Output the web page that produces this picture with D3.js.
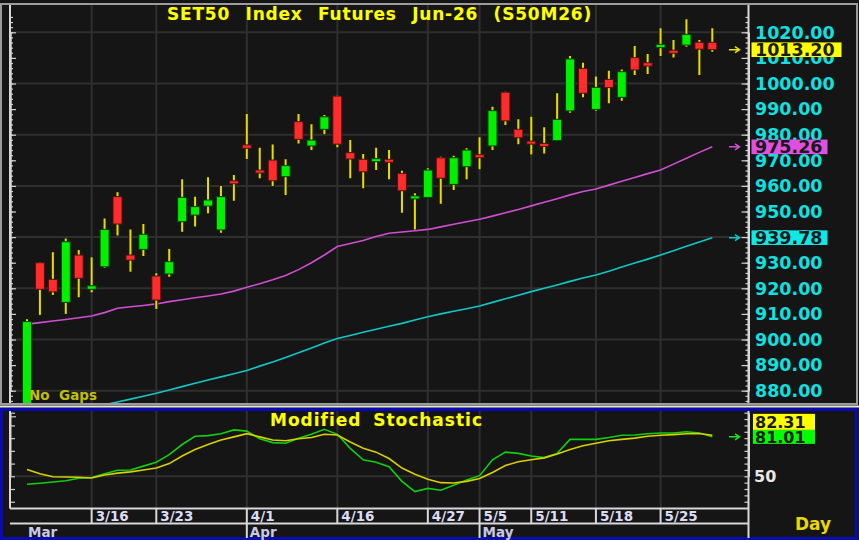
<!DOCTYPE html>
<html><head><meta charset="utf-8">
<script src="https://cdn.jsdelivr.net/npm/d3@7"></script>
<style>html,body{margin:0;padding:0;background:#151515;overflow:hidden}</style>
</head><body><svg id="c" width="859" height="540"></svg>
<script>
// ---------- DATA ----------
const dates = ["3/9","3/10","3/11","3/12","3/13","3/16","3/17","3/18","3/19","3/20",
  "3/23","3/24","3/25","3/26","3/27","3/30","3/31","4/1","4/2","4/3",
  "4/7","4/8","4/9","4/10","4/16","4/17","4/20","4/21","4/22","4/23",
  "4/24","4/27","4/28","4/29","4/30","5/5","5/6","5/7","5/8","5/11",
  "5/12","5/13","5/14","5/15","5/18","5/19","5/20","5/21","5/22","5/25",
  "5/26","5/27","5/28","5/29"];
const openVals = [872,930,923.5,914.5,933,919.6,928.4,955.8,933,935.2,
  924.8,925.6,946,948.6,952.1,942.8,961.6,976,965.9,970.1,
  963.6,985.1,975.6,982.1,995.1,973,970.4,969.8,970,964.9,
  955.2,955.5,971,960.6,967.5,971.8,975.6,996.6,982.1,977.2,
  976.2,977.7,989.3,1005.9,989.9,1001.6,994.6,1010.1,1008.1,1014,
  1012.6,1015,1016.1,1016.1];
const highVals = [907.9,930.2,934.1,939.5,935,932.1,947.3,957.5,943,945.1,
  925.9,935.4,962.6,955.8,963.4,960,964.3,988.1,974.9,976.2,
  970.4,988.1,984.1,987.7,995.3,977.9,972.5,974.9,974,965.9,
  957.1,966.9,971.4,971.8,974.7,979,990.9,996.8,986,987,
  982.9,996.2,1010.7,1008.1,1002.7,1005,1005.5,1014.6,1011.5,1021.6,
  1017,1025.1,1017,1021.6];
const lowVals = [870,909.6,917.4,910,916.5,918.4,928,940.6,926.5,932.6,
  911.9,924.5,942.1,944.1,949.3,941.7,954.2,970.5,963,960,
  956.4,976.6,974,980.2,975.1,963,959.1,966.2,962.6,949.5,
  943,955.3,953,958.4,962.6,966.5,974,983.8,976.3,972.3,
  972.7,977.5,988.6,994.6,989.4,992.3,993.3,1003.3,1003.7,1010.7,
  1010.2,1014.4,1003.3,1012.4];
const closeVals = [907,919.6,918.6,938.2,923.9,921,943,945.1,931,941.1,
  915.4,930.4,955.5,951.9,954.5,955.8,961.2,974.7,965.3,962,
  967.9,978.2,977.9,987,976.3,970.5,965.5,970.3,969.6,958.1,
  955.8,966.2,963,971,974,971.4,989.4,985.4,978.8,976.6,
  975.8,986,1009.6,996.2,998.5,998.4,1004.6,1005.3,1006.8,1015.3,
  1012.2,1019.2,1013.4,1013.2];
const maFast = [906,906.6,907.2,907.8,908.5,909.2,910.5,912.2,912.8,913.3,
  913.9,914.8,915.5,916.3,917,917.8,918.9,920.4,921.8,923.3,
  925,927.3,930,933,936.3,937.5,938.7,940.2,941.5,942,
  942.5,943,944,945,946,947,948.2,949.5,950.8,952.2,
  953.6,955,956.5,957.8,958.8,960.3,961.8,963.3,964.8,966.2,
  968.5,970.8,973.1,975.26];
const maSlow = [866.5,867.8,869.2,870.6,872,873.3,874.5,875.6,876.7,877.8,
  879,880.3,881.6,882.9,884.2,885.4,886.6,887.9,889.6,891.2,
  893,894.8,896.7,898.6,900.4,901.6,902.8,904,905.2,906.3,
  907.6,908.9,910,911,912,913.1,914.5,915.9,917.3,918.7,
  920,921.3,922.7,924,925.2,926.7,928.3,929.9,931.4,933,
  934.7,936.4,938.1,939.78];
const stochK = [43.7,44.5,45.5,46.5,48.5,49,52,54.7,55,58,
  61,67,75,81.5,82,83.5,86.5,85.5,79.5,76.5,
  76,80,83,87,83,72,63,61,57.5,46,
  38,40.5,39,43,47,50.5,63,69,68,66,
  64.7,68,79,79,79,80.5,82.3,82.5,83.5,84,
  84,85,84,81.01];
const stochD = [55.3,52,49.7,49.5,49.3,48.7,51,52.5,53.5,55,
  56.5,60,66,71,75,78.5,81,83.5,81,78.5,
  78,79.5,80.5,83,82.5,77,72,69,64,56.5,
  51.6,47.6,45,44.7,46,48.2,53,58.5,61.5,63,
  64.5,67.5,71,74,76,78,79,80,81.5,82.3,
  82.8,83.5,83.6,82.31];
const priceTicks = [880,890,900,910,920,930,940,950,960,970,980,990,1000,1010,1020];
const dateTicks = ["3/16","3/23","4/1","4/16","4/27","5/5","5/11","5/18","5/25"];
const monthLabels = ["Mar","Apr","May"];
const monthStarts = ["3/9","4/1","5/5"];
const stochTicks = [50];
const titleText = "SET50 Index Futures Jun-26 (S50M26)";
const stochTitle = "Modified Stochastic";

// ---------- LAYOUT ----------
const FONT = "DejaVu Sans";
const L = 10, R = 748.5, mainTop = 5, mainBot = 403, stTop = 411, stBot = 508.5, dateBot = 523.5;
const svg = d3.select("#c");
svg.append("rect").attr("width",859).attr("height",540).attr("fill","#151515");

const x = d3.scalePoint().domain(dates).range([27, 712.3]);
const y = d3.scaleLinear().domain([880,1020]).range([390.7, 32.3]);
const ys = d3.scaleLinear().domain([50,100]).range([476.3, 412.7]);

const defs = svg.append("defs");
defs.append("clipPath").attr("id","cm").append("rect")
  .attr("x",L+1).attr("y",mainTop).attr("width",R-L-1).attr("height",mainBot-mainTop);
defs.append("clipPath").attr("id","cs").append("rect")
  .attr("x",L+1).attr("y",stTop).attr("width",R-L-1).attr("height",stBot-stTop);

// frames
svg.append("rect").attr("x",1).attr("y",4).attr("width",856).attr("height",400)
  .attr("fill","none").attr("stroke","#9c9c9c").attr("stroke-width",2);
svg.append("line").attr("x1",0).attr("x2",859).attr("y1",406.5).attr("y2",406.5)
  .attr("stroke","#e8e8e8").attr("stroke-width",2);
svg.append("rect").attr("x",1.5).attr("y",409.5).attr("width",855).attr("height",129)
  .attr("fill","none").attr("stroke","#0a0ab4").attr("stroke-width",3);

// grid main
const gm = svg.append("g");
gm.selectAll("line.h").data(d3.range(880,1021,20)).join("line")
  .attr("x1",L).attr("x2",R).attr("y1",d=>y(d)).attr("y2",d=>y(d))
  .attr("stroke","#2f2f2f").attr("stroke-width",2);
gm.selectAll("line.v").data(dateTicks).join("line")
  .attr("x1",d=>x(d)).attr("x2",d=>x(d)).attr("y1",mainTop).attr("y2",mainBot)
  .attr("stroke","#2f2f2f").attr("stroke-width",2);
// grid stoch
const gs = svg.append("g");
gs.selectAll("line.h").data(stochTicks).join("line")
  .attr("x1",L).attr("x2",R).attr("y1",d=>ys(d)).attr("y2",d=>ys(d))
  .attr("stroke","#2f2f2f").attr("stroke-width",2);
gs.selectAll("line.v").data(dateTicks).join("line")
  .attr("x1",d=>x(d)).attr("x2",d=>x(d)).attr("y1",stTop).attr("y2",stBot)
  .attr("stroke","#2f2f2f").attr("stroke-width",2);

// axes (ticks)
function styleAxis(g){
  g.selectAll(".domain").attr("stroke","#d8d8d8").attr("stroke-width",2);
  g.selectAll(".tick line").attr("stroke","#d0d0d0").attr("stroke-width",1.2);
  g.selectAll(".tick text").remove();
}
const minorMain = d3.range(876,1028,2);
svg.append("g").attr("transform",`translate(${L},0)`)
  .call(d3.axisRight(y).tickValues(minorMain).tickSize(3).tickSizeOuter(0)).call(styleAxis);
svg.append("g").attr("transform",`translate(${L},0)`)
  .call(d3.axisRight(y).tickValues(priceTicks.concat([870])).tickSize(6).tickSizeOuter(0)).call(styleAxis);
svg.append("g").attr("transform",`translate(${R},0)`)
  .call(d3.axisLeft(y).tickValues(minorMain).tickSize(3).tickSizeOuter(0)).call(styleAxis);
svg.append("g").attr("transform",`translate(${R},0)`)
  .call(d3.axisLeft(y).tickValues(priceTicks).tickSize(7).tickSizeOuter(0)).call(styleAxis);
svg.append("line").attr("x1",L).attr("x2",L).attr("y1",mainTop).attr("y2",mainBot).attr("stroke","#d8d8d8").attr("stroke-width",2);
svg.append("line").attr("x1",R).attr("x2",R).attr("y1",mainTop).attr("y2",mainBot).attr("stroke","#d8d8d8").attr("stroke-width",2);

const stMinor = d3.range(30,101,5);
svg.append("g").attr("transform",`translate(${L},0)`)
  .call(d3.axisRight(ys).tickValues(d3.range(30,101,10)).tickSize(5).tickSizeOuter(0)).call(styleAxis);
svg.append("g").attr("transform",`translate(${R},0)`)
  .call(d3.axisLeft(ys).tickValues(stMinor).tickSize(4).tickSizeOuter(0)).call(styleAxis);
svg.append("line").attr("x1",L).attr("x2",L).attr("y1",stTop).attr("y2",stBot).attr("stroke","#d8d8d8").attr("stroke-width",2);
svg.append("line").attr("x1",R).attr("x2",R).attr("y1",stTop).attr("y2",538).attr("stroke","#d8d8d8").attr("stroke-width",2);
svg.append("line").attr("x1",L).attr("x2",R).attr("y1",stBot).attr("y2",stBot).attr("stroke","#d8d8d8").attr("stroke-width",2);
svg.append("line").attr("x1",L).attr("x2",R).attr("y1",dateBot).attr("y2",dateBot).attr("stroke","#d8d8d8").attr("stroke-width",2);

// MA lines
const pm = svg.append("g").attr("clip-path","url(#cm)");
const line = (arr, sc) => d3.line().x((d,i)=>x(dates[i])).y(d=>sc(d))(arr);
pm.append("path").attr("d",line(maSlow,y)).attr("fill","none").attr("stroke","#10c8c8").attr("stroke-width",1.6);
pm.append("path").attr("d",line(maFast,y)).attr("fill","none").attr("stroke","#d04ed0").attr("stroke-width",1.6);

// candles
const candles = dates.map((d,i)=>({d,o:openVals[i],h:highVals[i],l:lowVals[i],c:closeVals[i]}));
const cg = pm.append("g").selectAll("g").data(candles).join("g");
cg.append("line").attr("x1",d=>x(d.d)).attr("x2",d=>x(d.d)).attr("y1",d=>y(d.h)-0.5).attr("y2",d=>y(d.l)+0.5)
  .attr("stroke","#1a1a00").attr("stroke-width",4);
cg.append("line").attr("x1",d=>x(d.d)).attr("x2",d=>x(d.d)).attr("y1",d=>y(d.h)).attr("y2",d=>y(d.l))
  .attr("stroke","#e6dc00").attr("stroke-width",2);
cg.append("rect")
  .attr("x",d=>x(d.d)-4.5).attr("width",9)
  .attr("y",d=>{const t=y(Math.max(d.o,d.c)), b=y(Math.min(d.o,d.c)); return (b-t<3)? (t+b)/2-1.5 : t;})
  .attr("height",d=>Math.max(3, y(Math.min(d.o,d.c))-y(Math.max(d.o,d.c))))
  .attr("fill",d=>d.c>=d.o?"#00f000":"#ff2c2c")
  .attr("stroke",d=>d.c>=d.o?"#084008":"#501010").attr("stroke-width",1);

// stochastic lines
const ps = svg.append("g").attr("clip-path","url(#cs)");
ps.append("path").attr("d",line(stochK,ys)).attr("fill","none").attr("stroke","#10d010").attr("stroke-width",1.6);
ps.append("path").attr("d",line(stochD,ys)).attr("fill","none").attr("stroke","#d8d000").attr("stroke-width",1.6);

// texts
function txt(g, s, xx, yy, size, fill, weight, anchor){
  return g.append("text").attr("x",xx).attr("y",yy).text(s)
    .attr("font-family",FONT).attr("font-size",size).attr("font-weight",weight||"bold")
    .attr("fill",fill).attr("text-anchor",anchor||"start");
}
function fitWords(t, target){
  const n = t.text().split(" ").length - 1;
  const w = t.node().getComputedTextLength();
  if (n > 0) t.attr("word-spacing", (target - w) / n);
}
const tt = txt(svg, titleText, 379.5, 19.5, 17, "#ffff00", "bold", "middle")
  .attr("letter-spacing",0.8)
  .attr("stroke","#3a3a00").attr("stroke-width",0.6).attr("paint-order","stroke");
fitWords(tt, 425);
const st = txt(svg, stochTitle, 376.5, 426, 17, "#ffff00", "bold", "middle")
  .attr("letter-spacing",1)
  .attr("stroke","#3a3a00").attr("stroke-width",0.6).attr("paint-order","stroke");
fitWords(st, 213);
const ng = txt(svg, "No Gaps", 29, 400, 13.5, "#c0c000", "bold");
fitWords(ng, 68);

// price labels
const pl = svg.append("g");
priceTicks.forEach(v=>{
  txt(pl, v.toFixed(2), 755, y(v), 17.5, "#10e0e0", "bold").attr("dy","0.36em");
});
// value boxes
function valBox(v, val, w, fill, sc){
  const cy = sc(v);
  svg.append("rect").attr("x",751.5).attr("y",cy-7.3).attr("width",w).attr("height",14.6).attr("fill",fill);
  txt(svg, val, 755, cy, 17.5, "#1a1a1a", "bold").attr("dy","0.36em");
}
function arrow(cy, col){
  svg.append("path").attr("d",`M729,${cy}H739M735,${cy-3}L739.5,${cy}L735,${cy+3}`)
    .attr("fill","none").attr("stroke",col).attr("stroke-width",1.5);
}
const lastClose = closeVals[closeVals.length-1];
valBox(lastClose, lastClose.toFixed(2), 90, "#ffff00", y); arrow(y(lastClose), "#e6e600");
const lf = maFast[maFast.length-1];
valBox(lf, lf.toFixed(2), 76, "#e050e0", y); arrow(y(lf), "#d050d0");
const ls = maSlow[maSlow.length-1];
valBox(ls, ls.toFixed(2), 76, "#10e8e8", y); arrow(y(ls), "#10c8c8");

// stoch labels
txt(svg, "50", 754, ys(50), 16, "#e8e8e8", "bold").attr("dy","0.36em");
const kLast = stochK[stochK.length-1], dLast = stochD[stochD.length-1];
const gy = ys(kLast);
svg.append("rect").attr("x",753).attr("y",gy-7).attr("width",62).attr("height",14).attr("fill","#00ff00");
txt(svg, kLast.toFixed(2), 755, gy, 16, "#1a1a1a", "bold").attr("dy","0.36em");
svg.append("rect").attr("x",753).attr("y",gy-23).attr("width",62).attr("height",16).attr("fill","#ffff00");
txt(svg, dLast.toFixed(2), 755, gy-15, 16, "#1a1a1a", "bold").attr("dy","0.36em");
arrow(gy, "#20e020");

// date axis
const da = svg.append("g");
dateTicks.forEach(d=>{
  da.append("line").attr("x1",x(d)).attr("x2",x(d)).attr("y1",stBot).attr("y2",dateBot).attr("stroke","#d8d8d8").attr("stroke-width",2);
  txt(da, d, x(d)+4, 521, 13.5, "#dcdcf4", "bold");
});
monthLabels.forEach((m,i)=>{
  const xx = x(monthStarts[i]);
  if(i>0) da.append("line").attr("x1",xx).attr("x2",xx).attr("y1",dateBot).attr("y2",538).attr("stroke","#d8d8d8").attr("stroke-width",2);
  txt(da, m, i===0? 28 : xx+3, 537, 13.5, "#c8c8e8", "bold");
});
txt(svg, "Day", 795, 530, 17, "#e6d800", "bold");
</script></body></html>
